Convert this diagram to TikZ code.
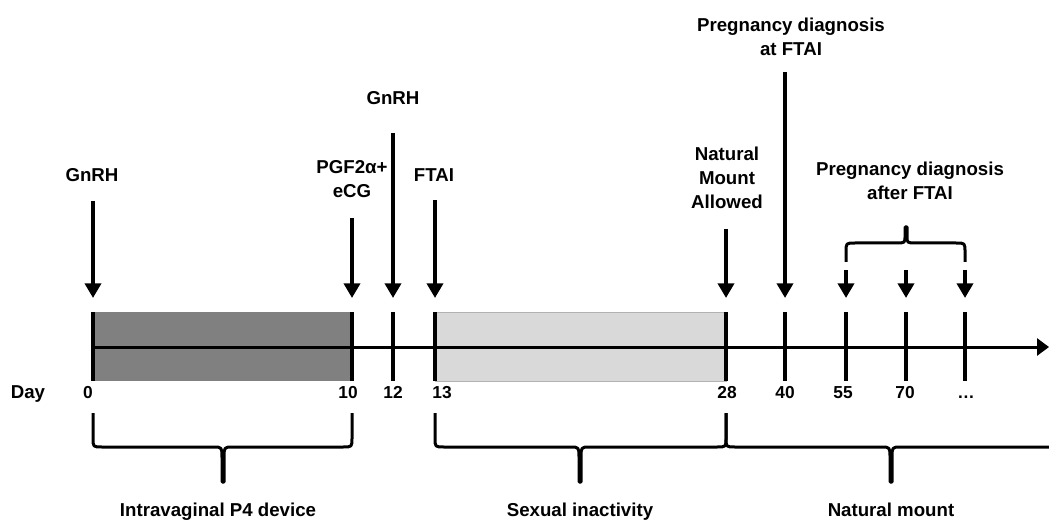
\documentclass[tikz,border=0pt]{standalone}
\usepackage{fontspec}
\setmainfont{Liberation Sans}
\usetikzlibrary{%
  positioning
 ,arrows.meta
 ,calc
}
\tikzstyle{lbl}=[font=\fontsize{14}{18}\selectfont\bfseries,align=center,inner sep=0pt]
\tikzstyle{num}=[font=\fontsize{13}{16}\selectfont\bfseries,inner sep=0pt,anchor=base]
\tikzstyle{tick}=[line width=3pt]
\tikzstyle{arr}=[line width=3pt,-{Triangle[length=11pt,width=12pt]}]
\tikzstyle{brc}=[line width=2.25pt,line join=round]
\definecolor{devgray}{RGB}{128,128,128}
\definecolor{restgray}{RGB}{217,217,217}

\begin{document}
\begin{tikzpicture}[x=0.75pt,y=-0.75pt]
      \useasboundingbox[fill=white] (0,0) rectangle (1049,520);
      % treatment periods
      \fill[devgray] (93,312) rectangle (352,381);
      \filldraw[fill=restgray,draw=black!30,line width=0.5pt] (435,312) rectangle (726,381);
      % time axis
      \coordinate (start) at (93,347);
      \coordinate (stop) at (1049,347);
      \draw[line width=2.25pt,-{Triangle[length=9pt,width=12.75pt]}] (start) -- (stop);
      \foreach \n/\x/\ya/\xl/\txt in {0/93/201/88/0, 10/352/218/348/10, 12/393/133/393/12,
          13/435/200/442/13, 28/726/229/727/28, 40/785/72/785/40,
          55/846/270/843/55, 70/906/270/905/70, x/965/270/966/…}{
        \coordinate (a\n) at (\x,\ya);
        \coordinate (h\n) at (\x,298);
        \draw[tick] (\x,312) -- (\x,381);
        \draw[arr] (a\n) -- (h\n);
        \node[num] (d\n) at (\xl,398) {\txt};
      }
      % labels
      \node[lbl,anchor=base] (day) at (28,398) {Day};
      \node[lbl] (gnrh0) at (92,175) {GnRH};
      \node[lbl] (pgf) at (352,179) {PGF2α+\\eCG};
      \node[lbl] (gnrh12) at (393,98) {GnRH};
      \node[lbl] (ftai) at (434,175) {FTAI};
      \node[lbl] (nmount) at (727,178) {Natural\\Mount\\Allowed};
      \node[lbl] (pdftai) at (791,37) {Pregnancy diagnosis\\at FTAI};
      \node[lbl] (pdafter) at (910,180.5) {Pregnancy diagnosis\\after FTAI};
      \node[lbl,anchor=base] (dev) at (218,516) {Intravaginal P4 device};
      \node[lbl,anchor=base] (inact) at (580,516) {Sexual inactivity};
      \node[lbl,anchor=base] (nat) at (891,516) {Natural mount};
      % braces
      \foreach \xa/\xm/\xb in {93/223/352, 435/580/726}{
        \draw[brc] (\xa,413) -- (\xa,438) .. controls (\xa,447) .. (\xa+9,447)
          -- (\xm-10,447) .. controls (\xm-1,447) .. (\xm-1,458) -- (\xm-1,482)
          -- (\xm+1,482) -- (\xm+1,458) .. controls (\xm+1,447) .. (\xm+10,447)
          -- (\xb-9,447) .. controls (\xb,447) .. (\xb,438) -- (\xb,413);
      }
      \draw[brc] (726,413) -- (726,438) .. controls (726,447) .. (735,447)
        -- (881,447) .. controls (890,447) .. (890,458) -- (890,482)
        -- (892,482) -- (892,458) .. controls (892,447) .. (901,447) -- (1049,447);
      \draw[brc] (846,262) -- (846,252) .. controls (846,243) .. (855,243)
        -- (896,243) .. controls (905,243) .. (905,236) -- (905,227)
        -- (907,227) -- (907,236) .. controls (907,243) .. (916,243)
        -- (956,243) .. controls (965,243) .. (965,252) -- (965,262);
    \end{tikzpicture}
\end{document}
